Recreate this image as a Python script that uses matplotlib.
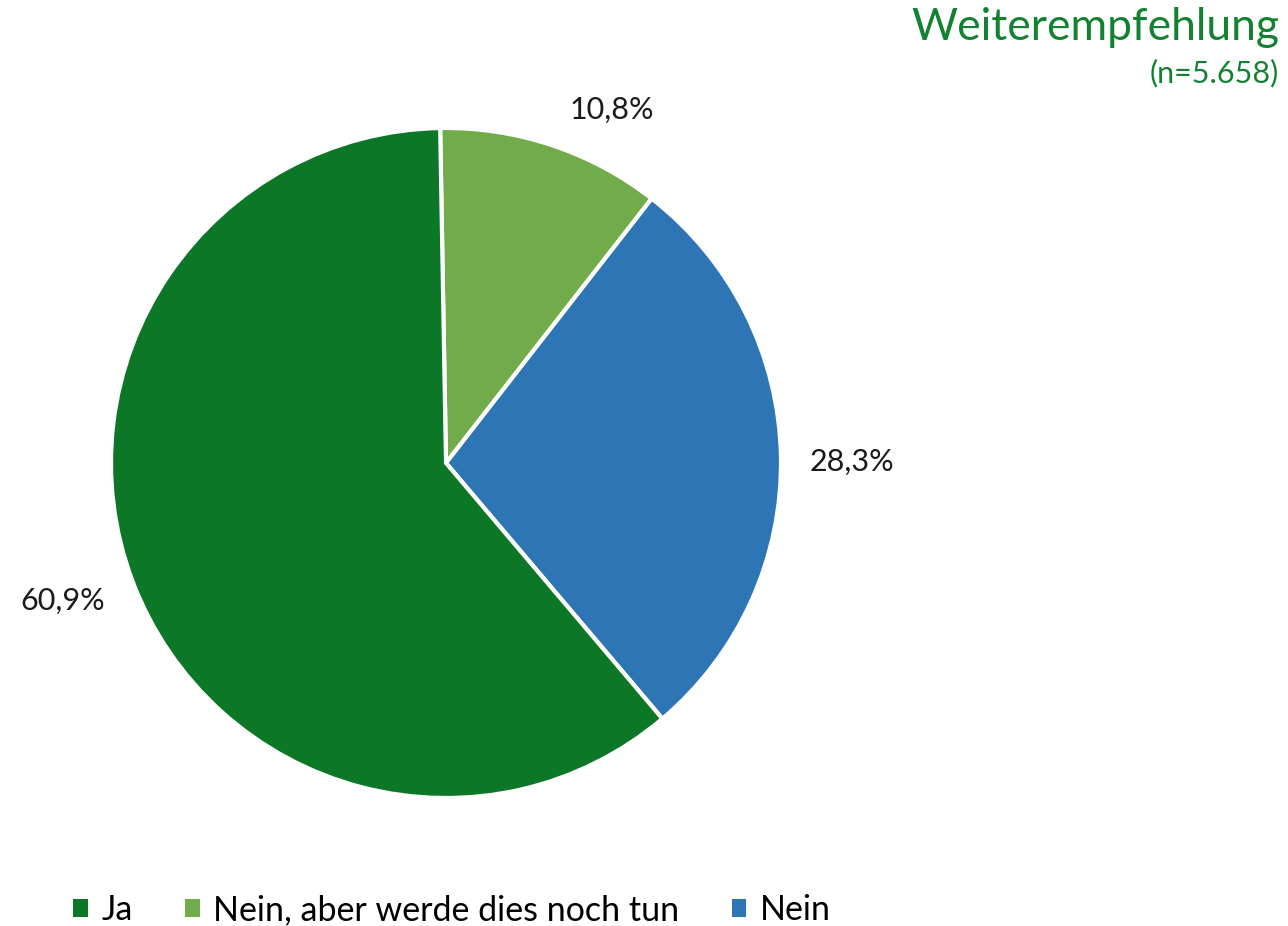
import matplotlib.pyplot as plt

plt.rcParams['font.family'] = ['Lato', 'DejaVu Sans']

labels = ['Ja', 'Nein, aber werde dies noch tun', 'Nein']
values = [60.9, 10.8, 28.3]
colors = ['#0B7727', '#72AC4A', '#2E75B6']
pct_text = ['60,9%', '10,8%', '28,3%']

# drawing order clockwise from 12 o'clock
order = [1, 2, 0]

H = 926
fig = plt.figure(figsize=(12.88, 9.26), dpi=100)
ax = fig.add_axes([0, 0, 1, 1])

wedges, _ = ax.pie([values[i] for i in order], colors=[colors[i] for i in order],
                   startangle=91, counterclock=False, center=(446, H - 463), radius=335,
                   wedgeprops=dict(edgecolor='white', linewidth=3))
ax.set_xlim(0, 1288)
ax.set_ylim(0, H)
ax.set_aspect('equal')
ax.axis('off')

# percentage labels (pixel positions from top)
label_pos = {0: (63, 601), 1: (612, 110), 2: (852, 462)}
for i, t in enumerate(pct_text):
    x, y = label_pos[i]
    ax.text(x, H - y, t, ha='center', va='center', fontsize=22, color='#1a1a1a')

ax.text(1279, H - 28, 'Weiterempfehlung', ha='right', va='center', fontsize=32, color='#128231')
ax.text(1279, H - 73, '(n=5.658)', ha='right', va='center', fontsize=22, color='#128231')

handles = [wedges[order.index(i)] for i in range(3)]
leg = fig.legend(handles, labels, loc='center left', bbox_to_anchor=(0.057, 0.017),
                 ncol=3, frameon=False, fontsize=24.5, handlelength=0.42, handleheight=0.42,
                 handletextpad=0.4, columnspacing=1.55, borderpad=0, borderaxespad=0)
for h in leg.legend_handles:
    h.set_edgecolor('none')

fig.savefig('out.png', dpi=100)
